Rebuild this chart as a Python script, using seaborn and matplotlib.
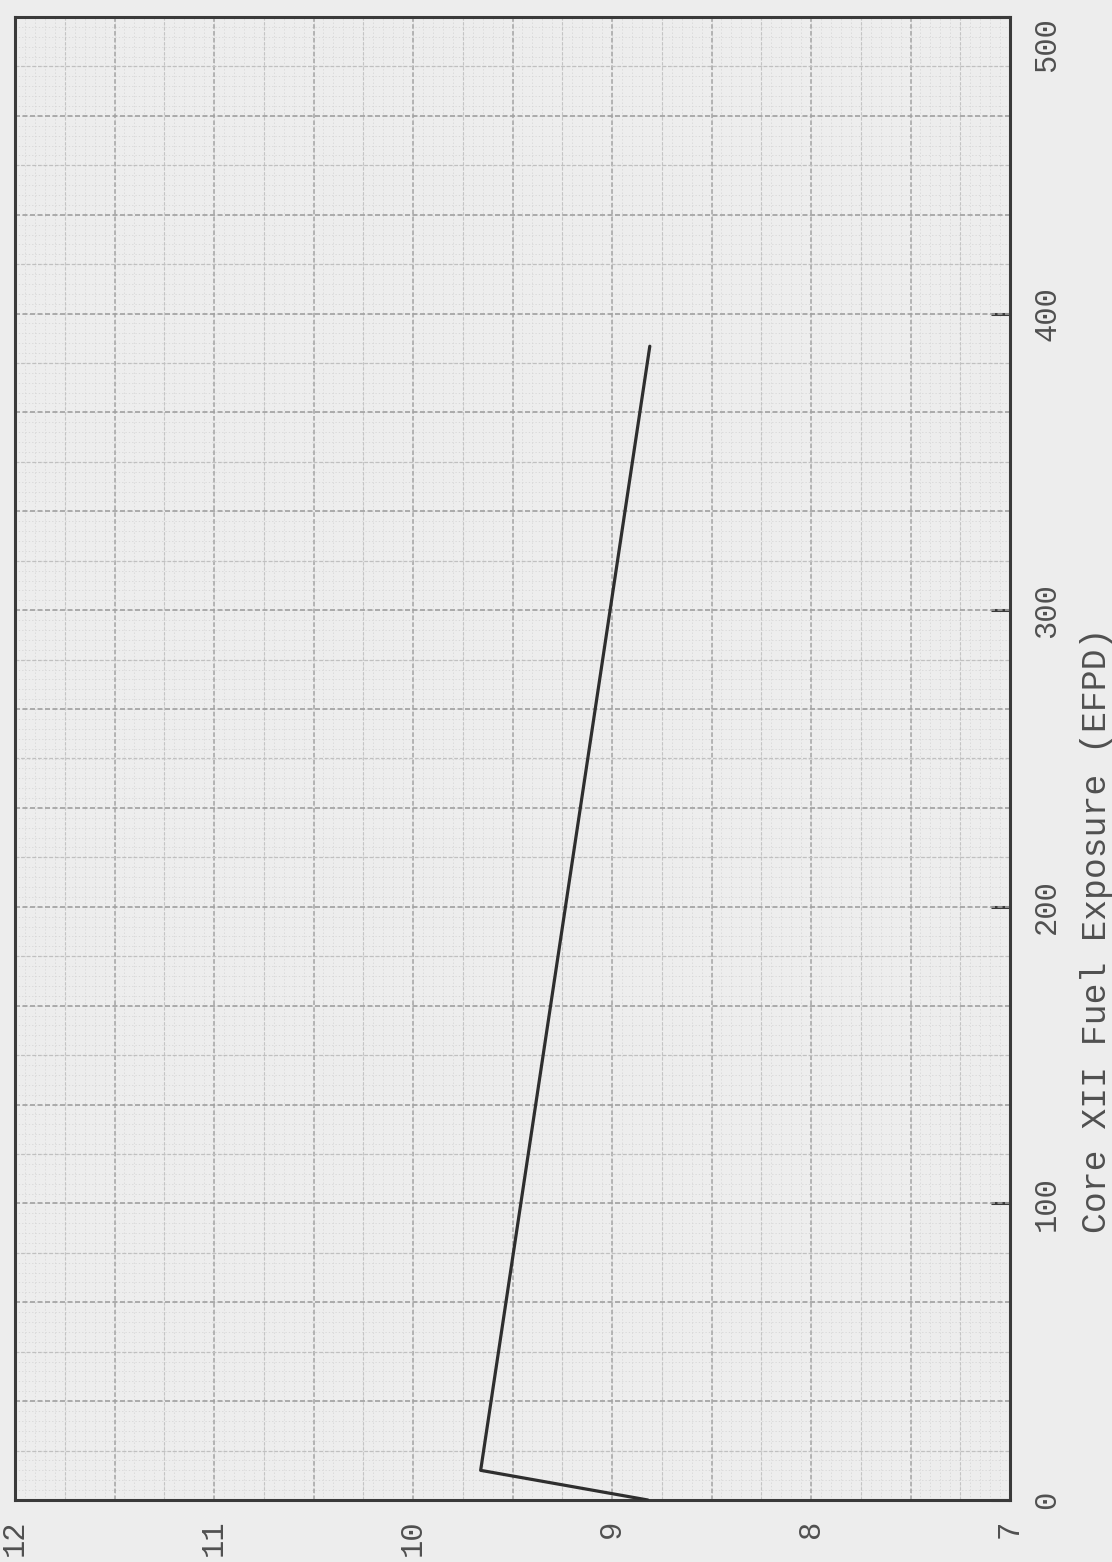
import numpy as np
import pandas as pd
import matplotlib
matplotlib.use('Agg')
import matplotlib.pyplot as plt
import seaborn as sns

exposure_efpd = [0, 10, 389]
value = [8.82, 9.66, 8.81]

value_ticks = [12, 11, 10, 9, 8, 7]
exposure_ticks = [0, 100, 200, 300, 400, 500]
exposure_label = 'Core XII Fuel Exposure (EFPD)'

df = pd.DataFrame({'value': value, 'exposure': exposure_efpd})

sns.set_style('white')
plt.rcParams['font.family'] = ['Liberation Mono', 'DejaVu Sans Mono']

paper = '#ededed'
ink = '#3a3a3a'
text_col = '#505050'

fig = plt.figure(figsize=(11.12, 15.62), dpi=100, facecolor=paper)
ax = fig.add_axes([15 / 1112, 1 - 1500 / 1562, 995 / 1112, 1483 / 1562])
ax.set_facecolor(paper)

# graph paper background
for v in np.arange(7, 12.001, 0.05):
    ax.axvline(v, color='#d6d6d6', lw=0.6, ls=(0, (1.5, 2.5)), zorder=0)
for e in np.arange(0, 500.01, 100 / 30):
    ax.axhline(e, color='#d6d6d6', lw=0.6, ls=(0, (1.5, 2.5)), zorder=0)
for v in np.arange(7, 12.001, 0.25):
    major = abs(v * 2 - round(v * 2)) < 1e-6
    ax.axvline(v, color='#a4a4a4' if major else '#c4c4c4',
               lw=1.1 if major else 0.8, ls=(0, (3, 1.5)), zorder=1)
for k, e in enumerate(np.arange(0, 500.01, 100 / 6)):
    major = k % 2 == 0
    ax.axhline(e, color='#a0a0a0' if major else '#c0c0c0',
               lw=1.2 if major else 0.9, ls=(0, (3, 1.5)), zorder=1)

sns.lineplot(data=df, x='value', y='exposure', sort=False, estimator=None,
             color='#2e2e2e', lw=2.3, ax=ax, zorder=5)

ax.set_xlim(12, 7)
ax.set_ylim(0, 500)

ax.set_xticks(value_ticks)
ax.set_xticklabels([str(t) for t in value_ticks], rotation=90,
                   fontsize=22, color=text_col)
ax.yaxis.tick_right()
ax.set_yticks(exposure_ticks)
ylabels = ax.set_yticklabels([str(t) for t in exposure_ticks], rotation=90,
                             fontsize=22, color=text_col, va='center')
ylabels[-1].set_va('top')
ax.tick_params(axis='x', direction='in', length=14, width=2.2, color=ink, pad=14)
ax.tick_params(axis='y', direction='in', length=14, width=2.2, color=ink, pad=16)

ax.set_xlabel('')
ax.set_ylabel(exposure_label, fontsize=25, color=text_col, rotation=90)
ax.yaxis.set_label_position('right')
ax.yaxis.set_label_coords(1.07, 0.384)

for s in ax.spines.values():
    s.set_visible(True)
    s.set_color(ink)
    s.set_linewidth(2.2)

fig.savefig('out.png', dpi=100, facecolor=paper)
